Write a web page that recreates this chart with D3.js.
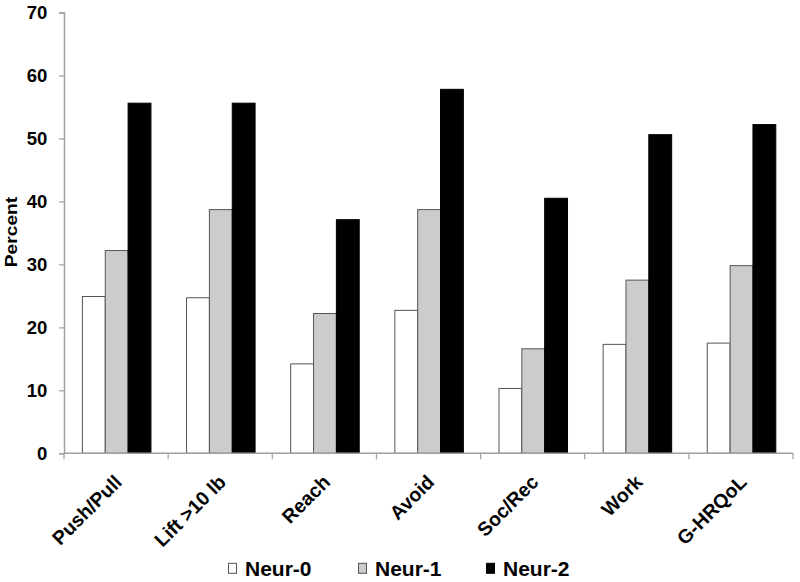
<!DOCTYPE html>
<html>
<head>
<meta charset="utf-8">
<script src="https://cdn.jsdelivr.net/npm/d3@7"></script>
<style>
  body { margin: 0; background: #fff; }
  svg { display: block; font-family: Arial, "Liberation Sans", sans-serif; font-weight: bold; }
</style>
</head>
<body>
<svg id="chart" width="800" height="582"></svg>
<script>
const categories = ["Push/Pull", "Lift >10 lb", "Reach", "Avoid", "Soc/Rec", "Work", "G-HRQoL"];
const seriesNames = ["Neur-0", "Neur-1", "Neur-2"];
const neur0 = [24.9, 24.7, 14.2, 22.7, 10.3, 17.3, 17.5];
const neur1 = [32.2, 38.7, 22.2, 38.7, 16.6, 27.5, 29.8];
const neur2 = [55.6, 55.6, 37.1, 57.8, 40.5, 50.6, 52.2];
const yTicks = [0, 10, 20, 30, 40, 50, 60, 70];
const fills = ["#ffffff", "#cccccc", "#000000"];
const strokes = ["#555555", "#555555", "#000000"];

const seriesValues = [neur0, neur1, neur2];
const svg = d3.select("#chart");
const mLeft = 64, mRight = 793, mTop = 12.5, mBottom = 453.3;
const axisColor = "#a0a0a0";

const y = d3.scaleLinear().domain([0, 70]).range([mBottom, mTop]);
const x0 = d3.scaleBand().domain(categories).range([mLeft, mRight]).padding(0);
const bw = x0.bandwidth();
const x1 = d3.scaleBand().domain(seriesNames).range([bw * 0.172, bw * 0.83]).padding(0);

// bars
const groups = svg.append("g").selectAll("g")
  .data(categories).join("g")
  .attr("transform", d => `translate(${x0(d)},0)`);
groups.selectAll("rect")
  .data((c, i) => seriesNames.map((s, k) => ({ s, k, v: seriesValues[k][i] })))
  .join("rect")
  .attr("x", d => x1(d.s) + 0.5)
  .attr("y", d => y(d.v))
  .attr("width", x1.bandwidth())
  .attr("height", d => mBottom - y(d.v))
  .attr("fill", d => fills[d.k])
  .attr("stroke", d => strokes[d.k])
  .attr("stroke-width", 1);

// y axis
const yAxis = d3.axisLeft(y).tickValues(yTicks).tickSize(5).tickPadding(11.7).tickFormat(d3.format("d"));
const yg = svg.append("g").attr("transform", `translate(${mLeft},0)`).call(yAxis);
yg.select(".domain").attr("stroke", axisColor).attr("stroke-width", 1.5);
yg.selectAll(".tick line").attr("stroke", axisColor).attr("stroke-width", 1.2);
yg.selectAll(".tick text").attr("font-size", 18.5).attr("font-weight", "bold").attr("fill", "#000")
  .attr("font-family", "Arial, 'Liberation Sans', sans-serif").attr("dy", "0.35em");

// x axis
const xg = svg.append("g").attr("transform", `translate(0,${mBottom})`);
xg.append("line").attr("x1", mLeft).attr("x2", mRight).attr("y1", 0).attr("y2", 0)
  .attr("stroke", axisColor).attr("stroke-width", 1.5);
const boundaries = categories.map(c => x0(c)).concat([x0(categories[categories.length - 1]) + bw]);
xg.selectAll("line.tk").data(boundaries).join("line").attr("class", "tk")
  .attr("x1", d => d).attr("x2", d => d).attr("y1", 0).attr("y2", 6)
  .attr("stroke", axisColor).attr("stroke-width", 1.2);
xg.selectAll("text").data(categories).join("text")
  .attr("transform", d => `translate(${x0(d) + bw / 2 + 7},${30}) rotate(-45)`)
  .attr("text-anchor", "end")
  .attr("font-size", 19.5)
  .attr("fill", "#000")
  .text(d => d);

// y label
svg.append("text")
  .attr("transform", `translate(17.3,232) rotate(-90) scale(1.2,1)`)
  .attr("text-anchor", "middle")
  .attr("font-size", 16)
  .attr("fill", "#000")
  .text("Percent");

// legend
const legendX = [228, 358, 486];
const lg = svg.append("g").selectAll("g").data(seriesNames).join("g")
  .attr("transform", (d, i) => `translate(${legendX[i]},568.3)`);
lg.append("rect").attr("x", 0.5).attr("y", -5).attr("width", 8).attr("height", 10)
  .attr("fill", (d, i) => fills[i]).attr("stroke", (d, i) => strokes[i]).attr("stroke-width", 1);
lg.append("text").attr("x", 17).attr("y", 0).attr("dy", "0.36em")
  .attr("font-size", 21).attr("fill", "#000").text(d => d);
</script>
</body>
</html>
